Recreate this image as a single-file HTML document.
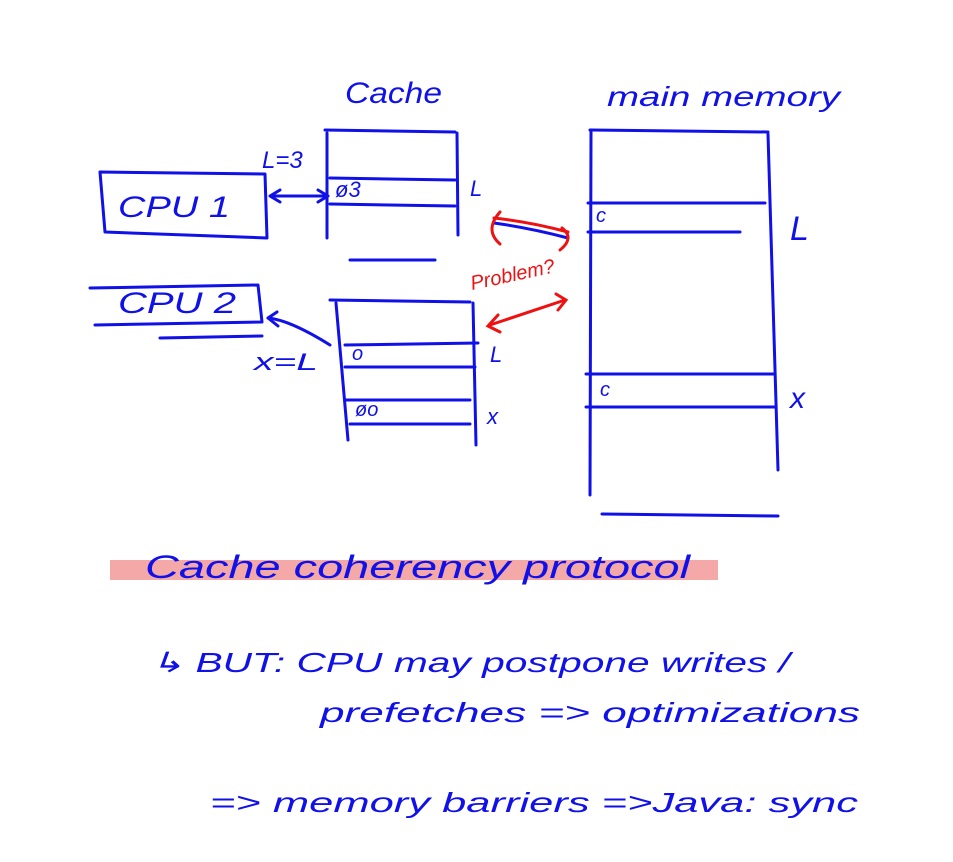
<!DOCTYPE html>
<html><head><meta charset="utf-8"><style>
html,body{margin:0;padding:0;background:#fff;width:953px;height:862px;overflow:hidden}
svg{display:block}
text{font-family:"Liberation Sans",sans-serif;font-style:italic;fill:#1010e8}
</style></head><body>
<svg width="953" height="862" viewBox="0 0 953 862">
<g fill="none" stroke="#1010e8" stroke-width="3" stroke-linecap="round" stroke-linejoin="round">
<path d="M100 172 L265 174 L267 238 L105 232 Z"/>
<path d="M90 288 L258 285 L262 322 L95 325"/>
<path d="M160 338 L262 336"/>
<path d="M325 130 L455 132"/>
<path d="M327 133 L327 238"/>
<path d="M457 133 L458 235"/>
<path d="M330 178 L455 180"/>
<path d="M330 204 L455 206"/>
<path d="M350 260 L435 260"/>
<path d="M330 300 L470 302"/>
<path d="M336 303 L348 440"/>
<path d="M473 303 L476 445"/>
<path d="M345 345 L478 343"/>
<path d="M345 367 L475 367"/>
<path d="M345 400 L470 400"/>
<path d="M350 424 L470 424"/>
<path d="M590 130 L768 132"/>
<path d="M591 132 L590 495"/>
<path d="M768 134 L778 470"/>
<path d="M588 203 L765 203"/>
<path d="M588 232 L740 232"/>
<path d="M586 374 L775 374"/>
<path d="M586 407 L775 407"/>
<path d="M602 514 L778 516"/>
<path d="M272 196 L325 196"/><path d="M280 190 L270 196 L280 202"/><path d="M318 190 L328 196 L318 202"/>
<path d="M268 318 Q290 320 330 345"/><path d="M277 312 L268 318 L278 326"/>
<path d="M494 223 Q530 228 568 238"/>
</g>
<g fill="none" stroke="#ee1111" stroke-width="3" stroke-linecap="round">
<path d="M494 218 Q530 222 568 232"/>
<path d="M500 212 Q484 230 500 244"/>
<path d="M562 228 Q575 238 560 250"/>
<path d="M490 325 L565 300"/>
<path d="M498 315 L488 326 L500 332"/>
<path d="M556 294 L566 300 L558 310"/>
</g>
<rect x="110" y="560" width="608" height="20" fill="#f5a8a8"/>
<g font-size="30">
<text x="345" y="103" textLength="97" lengthAdjust="spacingAndGlyphs">Cache</text>
<text x="607" y="106" font-size="28" textLength="233" lengthAdjust="spacingAndGlyphs">main memory</text>
<text x="118" y="217" textLength="112" lengthAdjust="spacingAndGlyphs">CPU 1</text>
<text x="118" y="313" textLength="118" lengthAdjust="spacingAndGlyphs">CPU 2</text>
<text x="262" y="168" font-size="24">L=3</text>
<text x="335" y="197" font-size="22">ø3</text>
<text x="470" y="196" font-size="22">L</text>
<text x="254" y="370" font-size="24" textLength="64" lengthAdjust="spacingAndGlyphs">x=L</text>
<text x="352" y="360" font-size="20">o</text>
<text x="490" y="362" font-size="22">L</text>
<text x="355" y="416" font-size="20">øo</text>
<text x="487" y="424" font-size="22">x</text>
<text x="596" y="222" font-size="20">c</text>
<text x="790" y="240" font-size="34">L</text>
<text x="600" y="396" font-size="20">c</text>
<text x="790" y="408" font-size="30">x</text>
<text x="472" y="290" font-size="20" style="fill:#ee1111" transform="rotate(-12 472 290)">Problem?</text>
<text x="145" y="578" font-size="32" textLength="545" lengthAdjust="spacingAndGlyphs">Cache coherency protocol</text>
<text x="150" y="672" font-size="28" textLength="640" lengthAdjust="spacingAndGlyphs">↳ BUT: CPU may postpone writes /</text>
<text x="320" y="722" font-size="28" textLength="540" lengthAdjust="spacingAndGlyphs">prefetches  =&gt; optimizations</text>
<text x="210" y="812" font-size="28" textLength="648" lengthAdjust="spacingAndGlyphs">=&gt; memory barriers =&gt;Java: sync</text>
</g>
</svg>
</body></html>
